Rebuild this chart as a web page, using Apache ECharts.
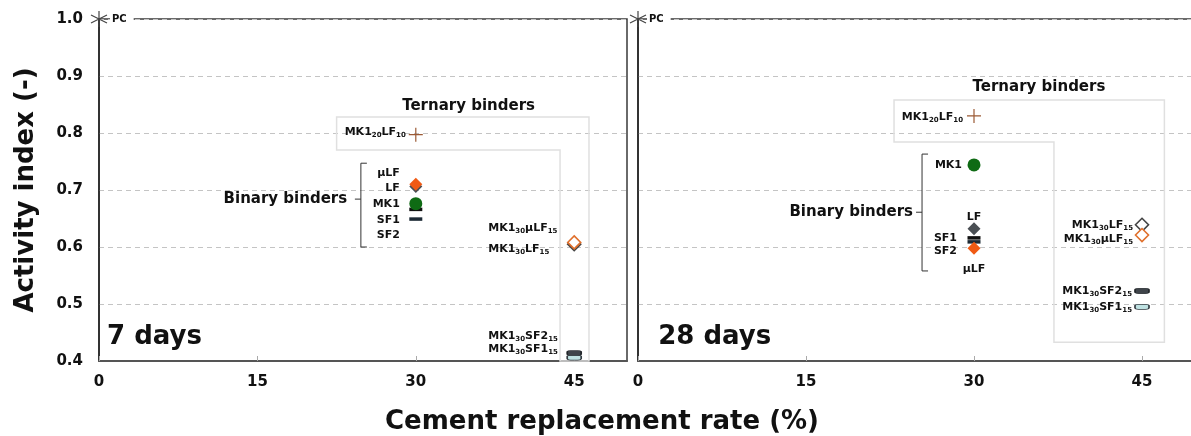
<!DOCTYPE html>
<html>
<head>
<meta charset="utf-8">
<script src="https://cdn.jsdelivr.net/npm/echarts@6.0.0/dist/echarts.min.js"></script>
<style>
html,body{margin:0;padding:0;background:#fff;}
#chart{width:1191px;height:436px;}
</style>
</head>
<body>
<div id="chart"></div>
<script>
const FONT = '"DejaVu Sans", "Liberation Sans", Arial, sans-serif';

// ---------------- data ----------------
const sampleNames = ['PC', 'SF2', 'SF1', 'MK1', 'LF', 'µLF', 'MK1_{20}LF_{10}',
  'MK1_{30}LF_{15}', 'MK1_{30}µLF_{15}', 'MK1_{30}SF1_{15}', 'MK1_{30}SF2_{15}'];
const replacementRate = [0, 30, 30, 30, 30, 30, 30, 45, 45, 45, 45];
const activity7d  = [1.000, 0.649, 0.666, 0.676, 0.706, 0.710, 0.797, 0.605, 0.608, 0.406, 0.414];
const activity28d = [1.000, 0.609, 0.616, 0.744, 0.632, 0.598, 0.830, 0.639, 0.621, 0.495, 0.523];
const xTickValues = [0, 15, 30, 45];
const yTickLabels = ['0.4', '0.5', '0.6', '0.7', '0.8', '0.9', '1.0'];
const panelTitles = ['7 days', '28 days'];
const xAxisTitle = 'Cement replacement rate (%)';
const yAxisTitle = 'Activity index (-)';

// ---------------- styles ----------------
const ASTERISK = 'path://M10 0L10 20M1.34 5L18.66 15M1.34 15L18.66 5';
const PLUS = 'path://M10 0L10 20M0 10L20 10';
const markerStyle = {
  'PC': {symbol: ASTERISK, symbolSize: 16, itemStyle: {color: 'rgba(0,0,0,0)', borderColor: '#444', borderWidth: 1.2}},
  'SF2': {symbol: 'rect', symbolSize: [13, 3.5], itemStyle: {color: '#1d2a35'}},
  'SF1': {symbol: 'rect', symbolSize: [13, 3.5], itemStyle: {color: '#111'}},
  'MK1': {symbol: 'circle', symbolSize: 13, itemStyle: {color: '#0f6b14'}},
  'LF': {symbol: 'diamond', symbolSize: 13, itemStyle: {color: '#4a4f54'}},
  'µLF': {symbol: 'diamond', symbolSize: 13, itemStyle: {color: '#f05a14'}},
  'MK1_{20}LF_{10}': {symbol: PLUS, symbolSize: 14, itemStyle: {color: 'rgba(0,0,0,0)', borderColor: '#9c5a35', borderWidth: 1.2}},
  'MK1_{30}LF_{15}': {symbol: 'diamond', symbolSize: 13, itemStyle: {color: '#fff', borderColor: '#444', borderWidth: 1.6}},
  'MK1_{30}µLF_{15}': {symbol: 'diamond', symbolSize: 13, itemStyle: {color: '#fff', borderColor: '#e0702c', borderWidth: 1.6}},
  'MK1_{30}SF1_{15}': {symbol: 'roundRect', symbolSize: [14, 5], itemStyle: {color: '#bfe2e2', borderColor: '#333a40', borderWidth: 1}},
  'MK1_{30}SF2_{15}': {symbol: 'roundRect', symbolSize: [14, 5], itemStyle: {color: '#3f444a', borderColor: '#22262a', borderWidth: 1}}
};

// label placement per panel: [dx, dy, align]
const labelPlacement = [
  {
    'PC': [11, 0, 'left'],
    'SF2': [-16, 16, 'right'],
    'SF1': [-16, 11, 'right'],
    'MK1': [-16, 0, 'right'],
    'LF': [-16, 2, 'right'],
    'µLF': [-16, -11, 'right'],
    'MK1_{20}LF_{10}': [-10, -3, 'right'],
    'MK1_{30}LF_{15}': [-86, 5, 'left'],
    'MK1_{30}µLF_{15}': [-86, -14, 'left'],
    'MK1_{30}SF1_{15}': [-86, -8, 'left'],
    'MK1_{30}SF2_{15}': [-86, -17, 'left']
  },
  {
    'PC': [9, 0, 'left'],
    'SF2': [-17, 9, 'right'],
    'SF1': [-17, 0, 'right'],
    'MK1': [-12, 0, 'right'],
    'LF': [0, -12, 'center'],
    'µLF': [0, 21, 'center'],
    'MK1_{20}LF_{10}': [-11, 1, 'right'],
    'MK1_{30}LF_{15}': [-9, 0, 'right'],
    'MK1_{30}µLF_{15}': [-9, 4, 'right'],
    'MK1_{30}SF1_{15}': [-10, 0, 'right'],
    'MK1_{30}SF2_{15}': [-10, 0, 'right']
  }
];

// annotation geometry in data coordinates (per panel)
const annotations = [
  {heading: [35.0, 0.847],
   box: [[22.5, 0.828], [46.4, 0.828], [46.4, 0.4], [43.66, 0.4], [43.66, 0.770], [22.5, 0.770]],
   bracket: {x: 24.8, top: 0.747, bottom: 0.600, mid: 0.684},
   binary: [23.5, 0.684], days: [0.76, 0.442]},
  {heading: [35.8, 0.881],
   box: [[22.86, 0.858], [47.0, 0.858], [47.0, 0.433], [37.14, 0.433], [37.14, 0.784], [22.86, 0.784]],
   bracket: {x: 25.36, top: 0.763, bottom: 0.558, mid: 0.661},
   binary: [24.55, 0.661], days: [1.8, 0.442]}
];

function richLabel(name) {
  const parts = name.split(/_\{(\d+)\}/);
  return parts.map((p, i) => p === '' ? '' : (i % 2 ? '{s|' + p + '}' : '{m|' + p + '}')).join('');
}
const richStyles = {
  m: {fontFamily: FONT, fontSize: 11, fontWeight: 'bold', color: '#111', lineHeight: 13},
  s: {fontFamily: FONT, fontSize: 7, fontWeight: 'bold', color: '#111', lineHeight: 7, verticalAlign: 'bottom'},
  p: {fontFamily: FONT, fontSize: 10, fontWeight: 'bold', color: '#111', lineHeight: 12}
};

function buildSeries(values, g) {
  const place = labelPlacement[g];
  return {
    type: 'scatter', xAxisIndex: g, yAxisIndex: g, clip: false, silent: true, animation: false,
    itemStyle: {opacity: 1},
    emphasis: {disabled: true},
    data: sampleNames.map((name, i) => {
      const p = place[name];
      const isPC = name === 'PC';
      const ms = markerStyle[name];
      return {
        name: name, value: [replacementRate[i], values[i]],
        symbol: ms.symbol, symbolSize: ms.symbolSize,
        itemStyle: Object.assign({opacity: 1}, ms.itemStyle),
        label: {
          show: true, position: 'inside', align: p[2], verticalAlign: 'middle', offset: [p[0], p[1]],
          formatter: isPC ? '{p|PC}' : richLabel(name), rich: richStyles, color: '#111',
          opacity: 1, textBorderWidth: 0,
          backgroundColor: isPC ? '#fff' : 'transparent',
          padding: isPC ? [1, 7, 1, 2] : 0
        }
      };
    })
  };
}

function xAxisOf(g) {
  return {
    gridIndex: g, type: 'value', min: 0, max: 50, interval: 15,
    axisLine: {show: true, onZero: false, lineStyle: {color: '#555', width: 2}},
    axisTick: {show: true, inside: true, length: 5, lineStyle: {color: '#aaa'}},
    axisLabel: {show: true, margin: 14, fontFamily: FONT, fontSize: 15, fontWeight: 'bold', color: '#111',
      showMaxLabel: false, formatter: v => xTickValues.includes(v) ? String(v) : ''},
    splitLine: {show: false}
  };
}
function yAxisOf(g) {
  return {
    gridIndex: g, type: 'value', min: 0.4, max: 1.0, interval: 0.1,
    axisLine: {show: true, onZero: false, lineStyle: {color: '#222', width: 1.5}},
    axisTick: {show: false},
    axisLabel: {show: g === 0, margin: 16, fontFamily: FONT, fontSize: 15, fontWeight: 'bold', color: '#111',
      formatter: v => yTickLabels[Math.round((v - 0.4) / 0.1)]},
    splitLine: {show: true, lineStyle: {color: '#c4c4c4', type: [5, 4], width: 1}}
  };
}

const chart = echarts.init(document.getElementById('chart'), null, {renderer: 'canvas'});
chart.setOption({
  animation: false,
  backgroundColor: '#fff',
  grid: [
    {left: 99, top: 19, right: 564, bottom: 75, show: true, borderColor: '#3a3a3a', borderWidth: 1.5, outerBoundsMode: 'none'},
    {left: 638, top: 19, right: -7, bottom: 75, show: true, borderColor: '#3a3a3a', borderWidth: 1.5, outerBoundsMode: 'none'}
  ],
  xAxis: [xAxisOf(0), xAxisOf(1)],
  yAxis: [yAxisOf(0), yAxisOf(1)],
  series: [buildSeries(activity7d, 0), buildSeries(activity28d, 1)]
});

// annotations (positioned through the chart's own coordinate systems)
const P = (g, x, y) => chart.convertToPixel({gridIndex: g}, [x, y]);
const gfx = [];
annotations.forEach((a, g) => {
  gfx.push({type: 'polygon', silent: true, z: 1,
    shape: {points: a.box.map(pt => P(g, pt[0], pt[1]))},
    style: {fill: 'none', stroke: '#e0e0e0', lineWidth: 1.5}});
  const h = P(g, a.heading[0], a.heading[1]);
  gfx.push({type: 'text', x: h[0], y: h[1], z: 10, silent: true,
    style: {text: 'Ternary binders', font: 'bold 15px ' + FONT, fill: '#111', align: 'center', verticalAlign: 'middle'}});
  const bt = P(g, a.bracket.x, a.bracket.top), bb = P(g, a.bracket.x, a.bracket.bottom), bm = P(g, a.bracket.x, a.bracket.mid);
  gfx.push({type: 'polyline', silent: true, z: 10,
    shape: {points: [[bt[0] + 6, bt[1]], [bt[0], bt[1]], [bb[0], bb[1]], [bb[0] + 6, bb[1]]]},
    style: {stroke: '#333', lineWidth: 1, fill: 'none'}});
  gfx.push({type: 'line', silent: true, z: 10,
    shape: {x1: bm[0], y1: bm[1], x2: bm[0] - 6, y2: bm[1]}, style: {stroke: '#333', lineWidth: 1}});
  const bn = P(g, a.binary[0], a.binary[1]);
  gfx.push({type: 'text', x: bn[0], y: bn[1], z: 10, silent: true,
    style: {text: 'Binary binders', font: 'bold 15px ' + FONT, fill: '#111', align: 'right', verticalAlign: 'middle'}});
  const d = P(g, a.days[0], a.days[1]);
  gfx.push({type: 'text', x: d[0], y: d[1], z: 10, silent: true,
    style: {text: panelTitles[g], font: 'bold 26px ' + FONT, fill: '#111', align: 'left', verticalAlign: 'middle'}});
});
gfx.push({type: 'text', x: 602, y: 422, z: 10, silent: true,
  style: {text: xAxisTitle, font: 'bold 26px ' + FONT, fill: '#111', align: 'center', verticalAlign: 'middle'}});
gfx.push({type: 'text', x: 26, y: 190, rotation: Math.PI / 2, z: 10, silent: true,
  style: {text: yAxisTitle, font: 'bold 26px ' + FONT, fill: '#111', align: 'center', verticalAlign: 'middle'}});
chart.setOption({graphic: gfx});
</script>
</body>
</html>
